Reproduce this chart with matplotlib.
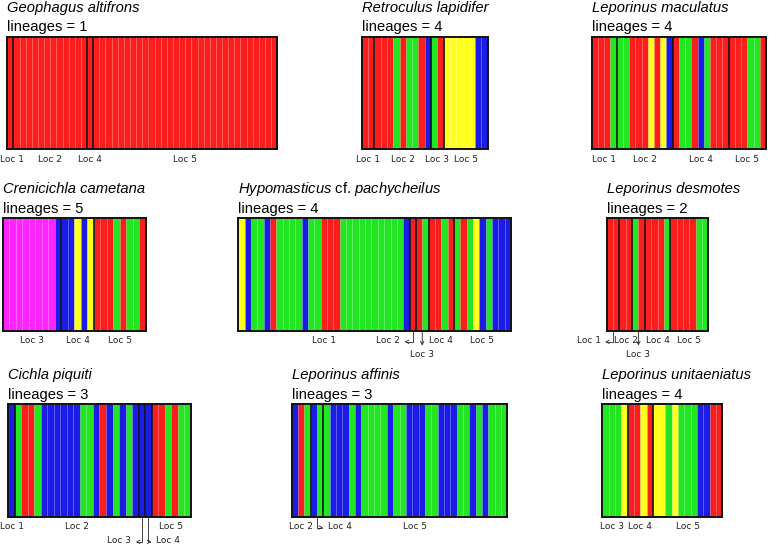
import numpy as np
import matplotlib.pyplot as plt

plt.rcParams['mathtext.fontset'] = 'custom'
plt.rcParams['mathtext.it'] = 'Liberation Sans:italic'
plt.rcParams['mathtext.rm'] = 'Liberation Sans'

# cluster colours
palette = {'R': '#fc1d1d', 'G': '#21e621', 'B': '#1c1ce8', 'Y': '#ffff1f', 'M': '#ff24ff'}

species = ['Geophagus altifrons', 'Retroculus lapidifer', 'Leporinus maculatus',
           'Crenicichla cametana', r'$\it{Hypomasticus}$ cf. $\it{pachycheilus}$', 'Leporinus desmotes',
           'Cichla piquiti', 'Leporinus affinis', 'Leporinus unitaeniatus']
lineages = [1, 4, 4, 5, 4, 2, 3, 3, 4]

# cluster assignment of every individual, left to right
assign = [
    'R' * 44,
    'RR' + 'RRRGRGGRB' + 'GR' + 'YYYYYBB',
    'RRRG' + 'GGRRRYRYB' + 'RGGRBGRRR' + 'RRRGGR',
    'MMMMMMMMB' + 'BBYBY' + 'RRRGRGGR',
    'YBGGBRGGGGBGGRRRGGGGGGGGGGB' + 'R' + 'RG' + 'RRGR' + 'GRGYBGBBB',
    'RR' + 'RR' + 'GR' + 'RRRG' + 'RRRRGG',
    'B' + 'GRRGBBBBBBGGBRBGBGB' + 'B' + 'B' + 'RRGRGG',
    'BRG' + 'BG' + 'GBBBGBGGGGBGGBBBGGBBBGGBGBGGG',
    'GGGY' + 'RRYR' + 'YYGYGGGBBRR',
]

# individuals per locality
loc_sizes = [
    [1, 12, 1, 30],
    [2, 9, 2, 7],
    [4, 9, 9, 6],
    [9, 5, 8],
    [27, 1, 2, 4, 9],
    [2, 2, 2, 4, 6],
    [1, 19, 1, 1, 6],
    [3, 2, 29],
    [4, 4, 11],
]
loc_names = [
    ['Loc 1', 'Loc 2', 'Loc 4', 'Loc 5'],
    ['Loc 1', 'Loc 2', 'Loc 3', 'Loc 5'],
    ['Loc 1', 'Loc 2', 'Loc 4', 'Loc 5'],
    ['Loc 3', 'Loc 4', 'Loc 5'],
    ['Loc 1', 'Loc 2', 'Loc 3', 'Loc 4', 'Loc 5'],
    ['Loc 1', 'Loc 2', 'Loc 3', 'Loc 4', 'Loc 5'],
    ['Loc 1', 'Loc 2', 'Loc 3', 'Loc 4', 'Loc 5'],
    ['Loc 2', 'Loc 4', 'Loc 5'],
    ['Loc 3', 'Loc 4', 'Loc 5'],
]
# how each locality label is attached ('' plain, L/R elbow arrow, D arrow down, 2 = lower row)
loc_marks = [
    ['', '', '', ''],
    ['', '', '', ''],
    ['', '', '', ''],
    ['', '', ''],
    ['', 'L', 'D', '', ''],
    ['L', '', 'D', '', ''],
    ['', '', 'L2', 'R2', ''],
    ['', 'R', ''],
    ['', '', ''],
]

# panel boxes in pixels: left, top, right, bottom
boxes = [
    (7.3, 37.3, 277.3, 149.3), (361.7, 37.3, 487.7, 149.3), (591.7, 37.3, 766, 149.3),
    (2.7, 218.3, 145.7, 331), (238.3, 218.3, 511, 331), (606.7, 218.3, 708.3, 331),
    (8.3, 404.3, 190.7, 516.7), (291.7, 404.3, 507.3, 516.7), (602.3, 404.3, 722.3, 516.7),
]

W, H = 769, 545
fig = plt.figure(figsize=(W / 100, H / 100), dpi=100)
pt = 0.72  # points per pixel

for i in range(9):
    l, t, r, b = boxes[i]
    ax = fig.add_axes([l / W, 1 - b / H, (r - l) / W, (b - t) / H])
    codes = list(assign[i])
    n = len(codes)
    ax.bar(np.arange(n), np.ones(n), width=1, align='edge',
           color=[palette[c] for c in codes], edgecolor=(1, 1, 1, 0.07), linewidth=0.4)
    ax.set_xlim(0, n)
    ax.set_ylim(0, 1)
    ax.set_xticks([])
    ax.set_yticks([])
    for s in ax.spines.values():
        s.set_linewidth(1.4)
        s.set_color('#111111')

    edges = np.cumsum(loc_sizes[i])
    for e in edges[:-1]:
        ax.axvline(e, color='#111111', lw=1.2)

    starts = edges - np.array(loc_sizes[i])
    centers = (starts + edges) / 2
    # pixel centres of the plain labels, nudged so they stay apart and inside the figure
    pxs = l + centers / n * (r - l)
    for k in range(len(pxs) - 2, -1, -1):
        if loc_marks[i][k] == '' and loc_marks[i][k + 1] == '' and pxs[k + 1] - pxs[k] < 28:
            pxs[k] = pxs[k + 1] - 28
    pxs = np.maximum(pxs, 12.5)

    for name, xc, px, mark in zip(loc_names[i], centers, pxs, loc_marks[i]):
        kw = dict(xycoords=('data', 'axes fraction'), textcoords='offset points',
                  fontsize=6.5, color='#222222', family='DejaVu Sans', va='baseline',
                  annotation_clip=False)
        arrow = dict(arrowstyle='<-', lw=0.6, color='#222222', shrinkA=1.2, shrinkB=0,
                     mutation_scale=6)
        if mark == '':
            ax.annotate(name, xy=((px - l) / (r - l) * n, 0), xytext=(0, -12.4 * pt),
                        ha='center', **kw)
        elif mark in ('L', 'L2'):
            dy = -12.4 if mark == 'L' else -26.7
            dx = -12.5 if mark == 'L' else -10.5
            ax.annotate(name, xy=(xc, 0), xytext=(dx * pt, dy * pt), ha='right',
                        arrowprops=dict(connectionstyle='angle,angleA=0,angleB=90,rad=0',
                                        relpos=(1, 0.4), **arrow), **kw)
        elif mark in ('R', 'R2'):
            dy = -12.4 if mark == 'R' else -26.7
            dx = 10.5 if mark == 'R' else 7.5
            ax.annotate(name, xy=(xc, 0), xytext=(dx * pt, dy * pt), ha='left',
                        arrowprops=dict(connectionstyle='angle,angleA=0,angleB=90,rad=0',
                                        relpos=(0, 0.4), **arrow), **kw)
        elif mark == 'D':
            ax.annotate(name, xy=(xc, 0), xytext=(0, -26.0 * pt), ha='center',
                        arrowprops=dict(relpos=(0.5, 1), **arrow), **kw)

    fig.text(l / W, 1 - (t - 25) / H, species[i], fontsize=10.6, family='Liberation Sans',
             style='normal' if '$' in species[i] else 'italic', va='baseline', ha='left')
    fig.text(l / W, 1 - (t - 5.8) / H, 'lineages = %d' % lineages[i], fontsize=10.6,
             family='Liberation Sans', va='baseline', ha='left')

fig.savefig('out.png', dpi=100)
